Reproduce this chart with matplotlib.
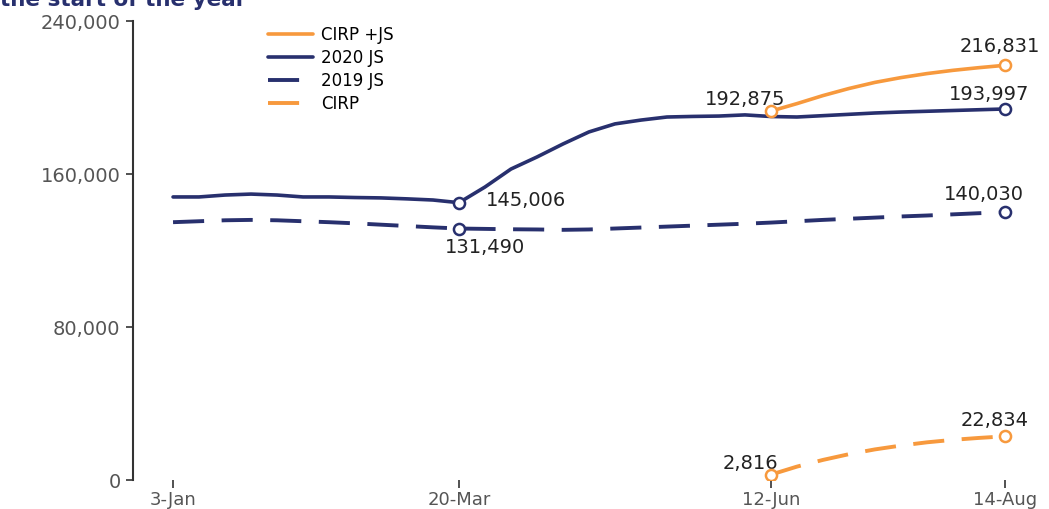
import numpy as np
import matplotlib
matplotlib.use('Agg')
import matplotlib.pyplot as plt
from matplotlib.ticker import FuncFormatter

plt.rcParams['font.family'] = ['DejaVu Sans']

# 每周数据（3-Jan 到 14-Aug，共 33 周）
weeks = list(range(33))
js_2020 = [148000, 148000, 149000, 149500, 149000, 148000, 148000, 147700, 147500, 147000, 146400, 145006,
           153200, 162600, 168900, 175700, 182000, 186200, 188200, 189800, 190100, 190300, 190900, 190059,
           189800, 190500, 191200, 191900, 192400, 192800, 193200, 193600, 193997]
js_2019 = [134800, 135300, 135800, 136000, 135800, 135300, 134800, 134200, 133500, 132800, 132100, 131490,
           131300, 131100, 131000, 130800, 131000, 131500, 132000, 132500, 133000, 133500, 134000, 134600,
           135300, 136000, 136600, 137200, 137800, 138300, 138900, 139500, 140030]
cirp_weeks = list(range(23, 33))
cirp = [2816, 7000, 10500, 13500, 16000, 18000, 19700, 21000, 22000, 22834]
tick_pos = [0, 11, 23, 32]
tick_labels = ['3-Jan', '20-Mar', '12-Jun', '14-Aug']

# CIRP + JS = 2020 JS 加上 CIRP
cirp_js = [js_2020[w] + c for w, c in zip(cirp_weeks, cirp)]

navy = '#28306e'
orange = '#f7993d'

fig = plt.figure(figsize=(10.49, 5.10), dpi=100)
ax = fig.add_axes([133 / 1049, 29 / 510, 907 / 1049, 459 / 510])

dash = (0, (8, 4.5))
ax.plot(cirp_weeks, cirp_js, color=orange, lw=2.6, label='CIRP +JS', solid_capstyle='round')
ax.plot(weeks, js_2020, color=navy, lw=2.6, label='2020 JS', solid_capstyle='round')
ax.plot(weeks, js_2019, color=navy, lw=2.8, ls=dash, label='2019 JS')
ax.plot(cirp_weeks, cirp, color=orange, lw=2.8, ls=dash, label='CIRP')

# 标注点（空心圆）
def mark(x, y, c):
    ax.plot(x, y, 'o', ms=8, mfc='white', mec=c, mew=1.8, zorder=5)

mark(11, js_2020[11], navy)
mark(11, js_2019[11], navy)
mark(32, js_2020[32], navy)
mark(32, js_2019[32], navy)
mark(23, cirp_js[0], orange)
mark(32, cirp_js[-1], orange)
mark(23, cirp[0], orange)
mark(32, cirp[-1], orange)

fmt = lambda v: f'{v:,}'
tc = '#222222'
fs = 14
ax.text(12.05, js_2020[11] + 1500, fmt(js_2020[11]), fontsize=fs, color=tc, ha='left', va='center')
ax.text(12.0, js_2019[11] - 4500, fmt(js_2019[11]), fontsize=fs, color=tc, ha='center', va='top')
ax.text(22.0, cirp_js[0] + 1500, fmt(cirp_js[0]), fontsize=fs, color=tc, ha='center', va='bottom')
ax.text(31.8, cirp_js[-1] + 5500, fmt(cirp_js[-1]), fontsize=fs, color=tc, ha='center', va='bottom')
ax.text(31.4, js_2020[32] + 3000, fmt(js_2020[32]), fontsize=fs, color=tc, ha='center', va='bottom')
ax.text(31.2, js_2019[32] + 5000, fmt(js_2019[32]), fontsize=fs, color=tc, ha='center', va='bottom')
ax.text(22.2, cirp[0] + 1500, fmt(cirp[0]), fontsize=fs, color=tc, ha='center', va='bottom')
ax.text(31.6, cirp[-1] + 4000, fmt(cirp[-1]), fontsize=fs, color=tc, ha='center', va='bottom')

ax.set_xlim(-1.54, 33.35)
ax.set_ylim(0, 240000)
ax.set_yticks([0, 80000, 160000, 240000])
ax.yaxis.set_major_formatter(FuncFormatter(lambda v, p: f'{int(v):,}'))
ax.set_xticks(tick_pos)
ax.set_xticklabels(tick_labels)
ax.tick_params(axis='y', length=5, width=1.2, color='#333333', labelsize=14, labelcolor='#555555', pad=4)
ax.tick_params(axis='x', length=6, width=1.2, color='#333333', labelsize=13, labelcolor='#555555', pad=1)

for s in ['top', 'right', 'bottom']:
    ax.spines[s].set_visible(False)
ax.spines['left'].set_color('#333333')
ax.spines['left'].set_linewidth(1.5)

ax.legend(loc='upper left', bbox_to_anchor=(0.141, 1.005), frameon=False, fontsize=12,
          handlelength=2.7, handletextpad=0.5, labelspacing=0.3, borderaxespad=0)

fig.text(0.0, 1 - 6 / 510, 'the start of the year', fontsize=15.5, fontweight='bold',
         color=navy, ha='left', va='baseline')

fig.savefig('out.png', dpi=100)
